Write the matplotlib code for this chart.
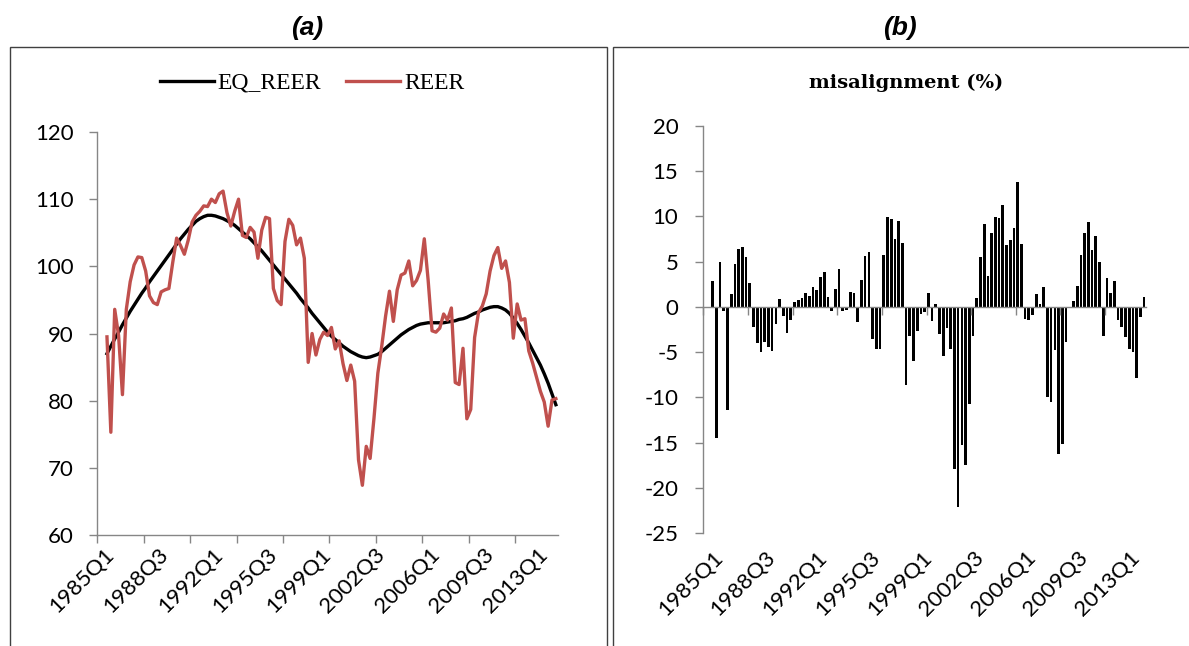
import numpy as np
import matplotlib.pyplot as plt
import matplotlib.transforms as mtransforms
from matplotlib.patches import Rectangle

plt.rcParams['axes.unicode_minus'] = False

# quarterly categories on the axis, 1985Q1 .. 2014Q3
quarters = [f"{y}Q{q}" for y in range(1985, 2015) for q in range(1, 5)][:119]
first_obs = 2  # series start in 1985Q3

eq_reer = [
    87.0, 88.1, 89.2, 90.2, 91.3, 92.3, 93.3, 94.2, 95.1, 96.0,
    96.8, 97.7, 98.5, 99.3, 100.1, 100.9, 101.7, 102.5, 103.3, 104.1,
    104.8, 105.5, 106.1, 106.7, 107.1, 107.4, 107.6, 107.6, 107.5, 107.3,
    107.1, 106.8, 106.5, 106.1, 105.6, 105.1, 104.6, 104.1, 103.5, 102.9,
    102.3, 101.6, 100.9, 100.2, 99.5, 98.8, 98.1, 97.4, 96.7, 96.0,
    95.2, 94.5, 93.8, 93.0, 92.3, 91.6, 90.9, 90.2, 89.6, 89.1,
    88.6, 88.1, 87.7, 87.3, 87.0, 86.7, 86.5, 86.4, 86.5, 86.7,
    86.9, 87.3, 87.8, 88.3, 88.8, 89.3, 89.8, 90.2, 90.6, 90.9,
    91.2, 91.4, 91.5, 91.6, 91.6, 91.6, 91.6, 91.6, 91.7, 91.8,
    91.9, 92.1, 92.2, 92.4, 92.7, 93.0, 93.2, 93.5, 93.7, 93.9,
    94.0, 94.0, 93.8, 93.5, 93.0, 92.3, 91.5, 90.6, 89.6, 88.6,
    87.5, 86.4, 85.3, 84.0, 82.6, 81.0, 79.4,
]

reer = [
    89.5, 75.3, 93.6, 89.7, 80.9, 93.6, 97.7, 100.2, 101.4, 101.3,
    99.3, 95.6, 94.6, 94.3, 96.2, 96.5, 96.7, 100.6, 104.2, 103.1,
    101.8, 103.9, 106.6, 107.6, 108.2, 109.0, 108.9, 110.0, 109.5, 110.8,
    111.2, 108.0, 106.0, 108.2, 110.0, 104.6, 104.3, 105.8, 105.1, 101.2,
    105.4, 107.3, 107.1, 96.7, 94.9, 94.3, 103.7, 107.0, 106.1, 103.2,
    104.2, 101.2, 85.7, 90.0, 86.8, 89.1, 90.2, 89.7, 90.9, 87.7,
    88.9, 85.5, 83.0, 85.3, 82.9, 71.2, 67.4, 73.2, 71.4, 77.4,
    84.1, 88.1, 92.6, 96.3, 91.8, 96.5, 98.7, 99.0, 100.8, 97.1,
    97.9, 99.4, 104.1, 97.9, 90.4, 90.2, 90.8, 92.9, 92.0, 93.8,
    82.7, 82.4, 87.8, 77.3, 78.7, 89.4, 93.1, 94.1, 95.9, 99.3,
    101.6, 102.8, 99.7, 100.8, 97.6, 89.3, 94.4, 92.0, 92.2, 87.4,
    85.6, 83.5, 81.4, 79.8, 76.2, 80.1, 80.3,
]

misalignment = [
    2.9, -14.5, 4.9, -0.5, -11.4, 1.4, 4.7, 6.4, 6.6, 5.5,
    2.6, -2.2, -4.0, -5.0, -3.9, -4.4, -4.9, -1.9, 0.85, -1.0,
    -2.9, -1.5, 0.5, 0.8, 1.0, 1.5, 1.2, 2.2, 1.9, 3.3,
    3.8, 1.1, -0.5, 1.95, 4.2, -0.5, -0.3, 1.65, 1.55, -1.65,
    3.0, 5.6, 6.1, -3.5, -4.6, -4.6, 5.7, 9.9, 9.7, 7.5,
    9.5, 7.1, -8.6, -3.2, -6.0, -2.7, -0.8, -0.55, 1.5, -1.6,
    0.35, -3.0, -5.4, -2.3, -4.7, -17.9, -22.1, -15.3, -17.5, -10.7,
    -3.2, 0.95, 5.5, 9.1, 3.4, 8.1, 9.9, 9.8, 11.3, 6.8,
    7.4, 8.7, 13.8, 6.9, -1.3, -1.5, -0.9, 1.4, 0.3, 2.2,
    -10.0, -10.5, -4.8, -16.3, -15.1, -3.9, -0.1, 0.6, 2.3, 5.7,
    8.1, 9.35, 6.3, 7.8, 4.9, -3.2, 3.2, 1.5, 2.9, -1.4,
    -2.2, -3.3, -4.6, -5.0, -7.8, -1.1, 1.1,
]

grey = '#868686'
tick_font = 'Lato'
tick_size = 16
idx = np.arange(first_obs, first_obs + len(reer))
n_cat = len(quarters)
tick_pos = np.arange(-0.5, n_cat - 0.5, 12)     # tick marks every 12 quarters
label_pos = np.arange(0, n_cat, 14)             # labels every 14 quarters
label_txt = [quarters[i] for i in label_pos]

fig = plt.figure(figsize=(11.89, 6.46), dpi=100)

# panel frames
for x0, w in [(10, 597), (613, 600)]:
    fig.add_artist(Rectangle((x0 / 1189, -0.05), w / 1189, 1.05 - 47 / 646,
                             transform=fig.transFigure, fill=False,
                             edgecolor='#404040', lw=1.0))

for xc, t in [(307, '(a)'), (900, '(b)')]:
    fig.text(xc / 1189, 1 - 28 / 646, t, ha='center', va='center',
             fontsize=19, fontweight='bold', fontstyle='italic',
             family='Liberation Sans')


def style_axis(ax, ypad):
    for s in ['top', 'right']:
        ax.spines[s].set_visible(False)
    for s in ['left', 'bottom']:
        ax.spines[s].set_color(grey)
        ax.spines[s].set_linewidth(1.0)
    ax.set_xlim(-0.5, n_cat - 0.5)
    ax.set_xticks(tick_pos)
    ax.tick_params(axis='both', direction='out', length=6, color=grey,
                   width=1.0, labelsize=tick_size)
    ax.tick_params(axis='y', pad=ypad)
    ax.tick_params(axis='x', labelbottom=False)
    for lbl in ax.get_yticklabels():
        lbl.set_family(tick_font)


def category_labels(ax, dx, dy):
    # rotated date labels hanging below the plot area
    base = mtransforms.blended_transform_factory(ax.transData, ax.transAxes)
    shift = mtransforms.ScaledTranslation(dx / 100, -dy / 100, fig.dpi_scale_trans)
    for pos, txt in zip(label_pos, label_txt):
        ax.text(pos, 0, txt, transform=base + shift, rotation=45,
                rotation_mode='anchor', ha='right', va='top',
                family=tick_font, fontsize=tick_size, clip_on=False)


# (a) equilibrium vs actual REER
ax1 = fig.add_axes([97.3 / 1189, 1 - 535 / 646, 460.5 / 1189, 403 / 646])
ax1.plot(idx, eq_reer, color='black', lw=2.4, label='EQ_REER')
ax1.plot(idx, reer, color='#C0504D', lw=2.4, label='REER')
ax1.set_ylim(60, 120)
ax1.set_yticks(np.arange(60, 121, 10))
style_axis(ax1, 11)
category_labels(ax1, 5, 9)

ax1.legend(loc='center', bbox_to_anchor=(312 / 1189, 1 - 83 / 646),
           bbox_transform=fig.transFigure, ncol=2, frameon=False,
           handlelength=2.3, handletextpad=0.15, columnspacing=1.05,
           prop={'family': 'Liberation Serif', 'size': 17})

# (b) misalignment bars
ax2 = fig.add_axes([703.3 / 1189, 1 - 533.3 / 646, 442.7 / 1189, 407.6 / 646])
ax2.bar(idx, misalignment, width=0.72, color='black', zorder=1)
ax2.set_ylim(-25, 20)
ax2.set_yticks(np.arange(-25, 21, 5))
style_axis(ax2, 12)
ax2.spines['bottom'].set_position(('data', 0))
ax2.spines['bottom'].set_zorder(2)
category_labels(ax2, 8, 14)

fig.text(906 / 1189, 1 - 83 / 646, 'misalignment (%)', ha='center',
         va='center', fontsize=14, fontweight='bold', family='DejaVu Serif')

fig.savefig('out.png', dpi=100)
